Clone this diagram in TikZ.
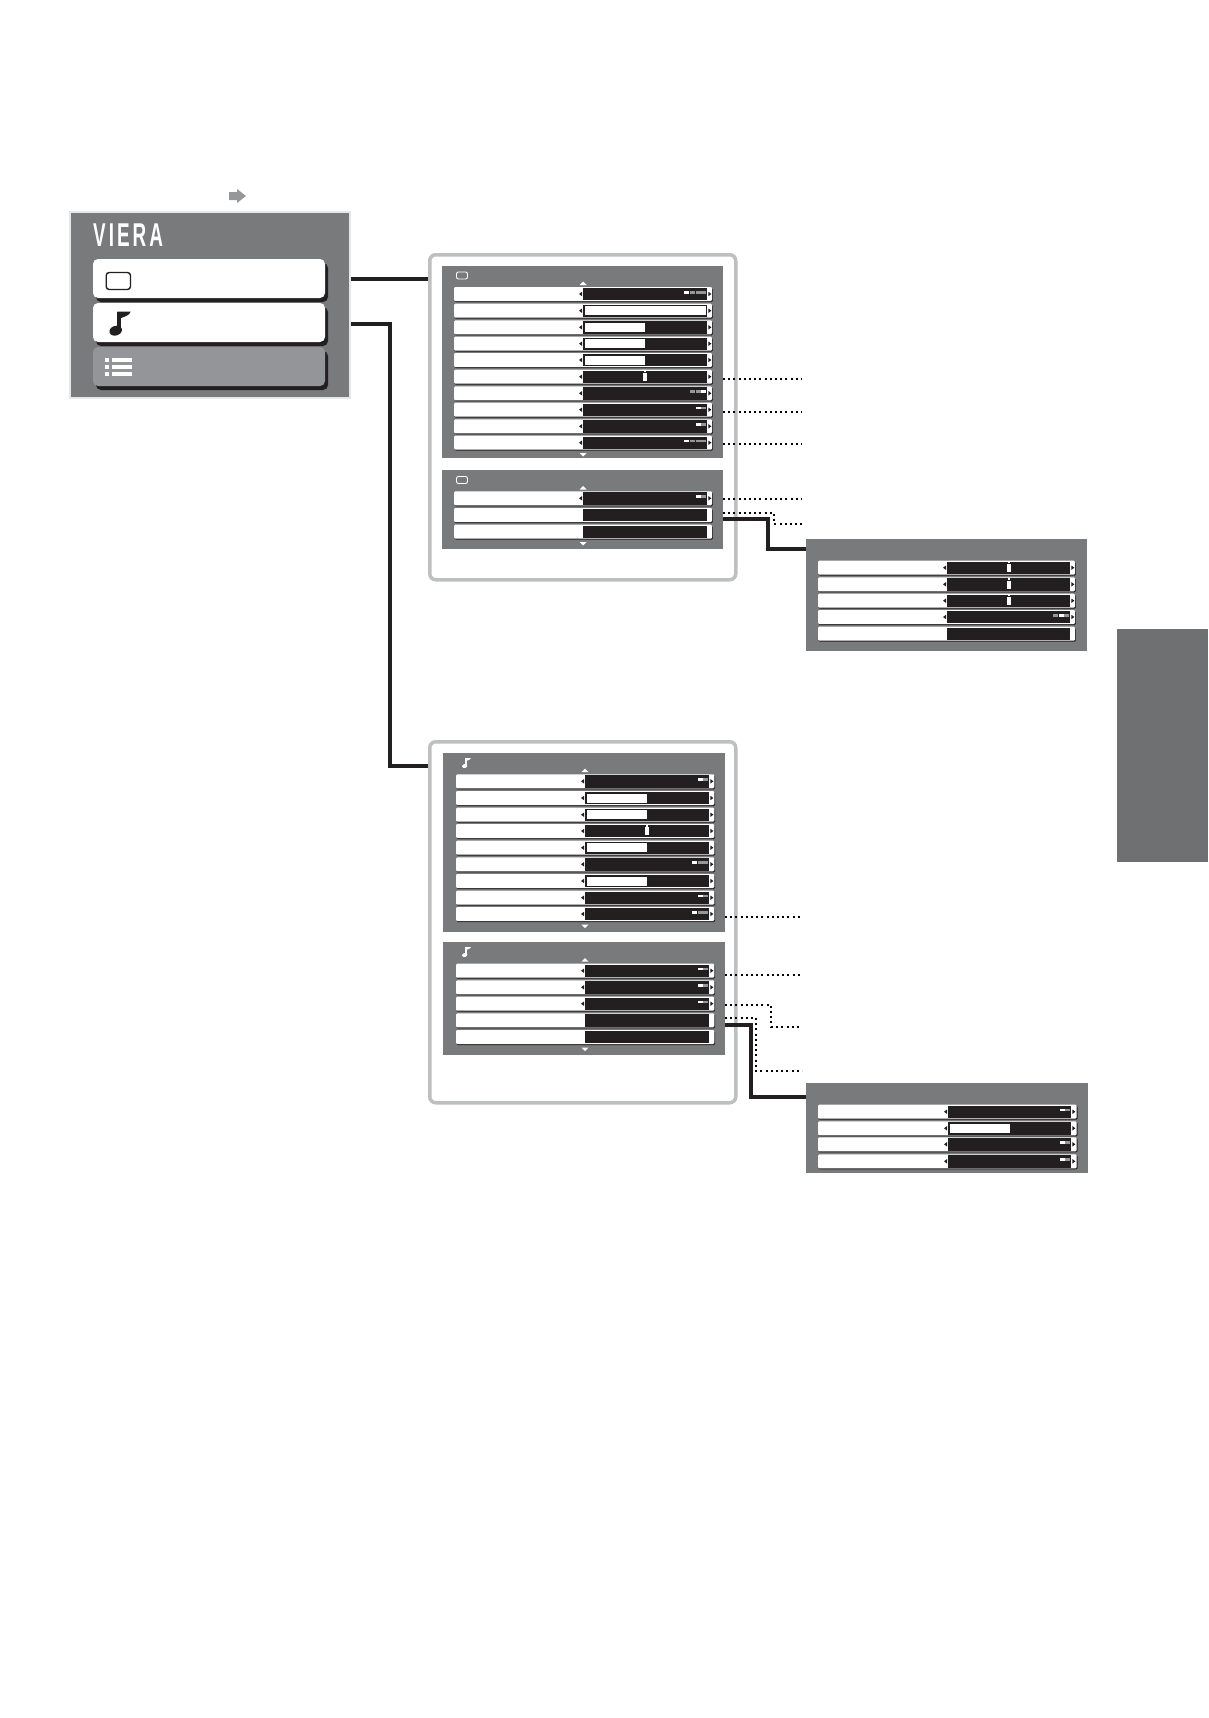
\documentclass[tikz,border=0pt]{standalone}
\usepackage{fontspec}
\newfontfamily\logofont[LetterSpace=16]{Liberation Sans}
\definecolor{panelgray}{RGB}{120,122,123}
\definecolor{tabgray}{RGB}{111,112,114}
\definecolor{buttongray}{RGB}{147,149,152}
\definecolor{framegray}{RGB}{190,191,192}
\definecolor{edgegray}{RGB}{230,231,232}
\definecolor{barblack}{RGB}{35,31,32}
\definecolor{segmentgray}{RGB}{150,151,153}
\tikzset{
	panel/.style={fill=panelgray,inner sep=0pt,outer sep=0pt,anchor=north west},
	framebox/.style={draw=framegray,line width=3.5pt,rounded corners=6pt,inner sep=0pt,anchor=north west},
	menubutton/.style={inner sep=0pt,outer sep=0pt,rounded corners=5pt,anchor=north west,minimum width=232pt,minimum height=39pt},
	rowbox/.style={fill=white,inner sep=0pt,outer sep=0pt,rounded corners=1.2pt,anchor=north west,minimum height=14pt},
	link/.style={draw=barblack,line width=4pt,line join=miter},
	leader/.style={draw=black,line width=2pt,dash pattern=on 2pt off 3.2pt}
}
% note sign: left, top, scale, colour
\newcommand{\noteicon}[4]{
	\begin{scope}[shift={(#1,#2)},scale=#3]
		\fill[#4,rotate around={-18:(6.5,19)}] (6.5,19) ellipse (6.4 and 4.8);
		\fill[#4] (8.2,0) rectangle (11.4,19);
		\fill[#4] (8.2,0) -- (21.5,0) .. controls (20,4) and (15,5) .. (11.4,6.5) -- cycle;
	\end{scope}
}
% one row of a menu: name, top, what sits in the bar
\newcommand{\menurow}[3]{
	\def\rowtop{#2}
	\fill[barblack,rounded corners=1.2pt] ({\rowL+0.5},{#2+1}) rectangle ({\rowR+0.8},{#2+15});
	\node (#1) [rowbox,minimum width={(\rowR-\rowL)*1pt}] at (\rowL,#2) {};
	\fill[barblack] (\barL,{#2+0.8}) rectangle (\barR,{#2+13.2});
	#3
}
\newcommand{\rowarrows}{
	\fill[barblack] ({\barL-4},{\rowtop+7}) -- ({\barL-1},{\rowtop+4.8}) -- ({\barL-1},{\rowtop+9.2}) -- cycle;
	\fill[barblack] ({\barR+4.4},{\rowtop+7}) -- ({\barR+1.4},{\rowtop+4.8}) -- ({\barR+1.4},{\rowtop+9.2}) -- cycle;
}
\newcommand{\levelbar}{
	\rowarrows
	\fill[white] ({\barL+2},{\rowtop+2.6}) rectangle ({\barL+62},{\rowtop+11.6});
}
\newcommand{\fullbar}{
	\rowarrows
	\fill[white] ({\barL+2},{\rowtop+2.6}) rectangle ({\barR-1.4},{\rowtop+11.6});
}
\newcommand{\sliderbar}{
	\rowarrows
	\fill[white] ({\barL+60},{\rowtop+3.4}) rectangle ({\barL+64},{\rowtop+11.4});
	\fill[white] ({\barL+61.3},{\rowtop+1}) rectangle ({\barL+62.7},{\rowtop+2.7});
}
% segments at the right of the bar: how many, which is lit
\newcommand{\segments}[2]{
	\rowarrows
	\foreach \i in {1,...,#1}{
		\pgfmathsetmacro{\segR}{\barR-0.7-(#1-\i)*5.8}
		\ifnum\i=#2 \def\segcol{white}\else\def\segcol{segmentgray}\fi
		\fill[\segcol] ({\segR-4.9},{\rowtop+3.8}) rectangle (\segR,{\rowtop+6.6});
	}
}
\begin{document}
\begin{tikzpicture}[x=1pt,y=1pt,yscale=-1,xscale=1]
	\useasboundingbox (0,0) rectangle (1208,1718);

	%side tab and the small arrow
	\fill[tabgray] (1117,629) rectangle (1208,862);
	\fill[segmentgray] (229,192) -- (237,192) -- (237,189) -- (246,196) -- (237,203) -- (237,200) -- (229,200) -- cycle;

	%main menu
	\node (mainmenu) [panel,draw=edgegray,line width=2pt,outer sep=1pt,minimum width=280pt,minimum height=186pt] at (69,211) {};
	\node (logo) [anchor=west,inner sep=0pt,text=white,xscale=0.86,yscale=1.5] at (93,235) {\logofont\fontsize{22}{22}\selectfont\bfseries VIERA};
	\fill[barblack,rounded corners=5pt] (96,263) rectangle (328,302);
	\fill[barblack,rounded corners=5pt] (96,307) rectangle (328,346);
	\fill[barblack,rounded corners=5pt] (96,351) rectangle (328,390);
	\node (picbutton) [menubutton,fill=white] at (93,259) {};
	\node (musicbutton) [menubutton,fill=white] at (93,303) {};
	\node (setupbutton) [menubutton,fill=buttongray] at (93,347) {};
	\draw[barblack,line width=1.4pt,rounded corners=3pt] (106.2,272.5) rectangle (130.5,289.5);
	\noteicon{109.2}{311.7}{1}{barblack}
	\foreach \liney in {358,365,372}{
		\fill[white] (105,\liney) rectangle (109,{\liney+4});
		\fill[white] (112,\liney) rectangle (132,{\liney+4});
	}

	%picture frame
	\node (picframe) [framebox,minimum width=306pt,minimum height=325pt] at (428,253) {};
	\node (picA) [panel,minimum width=281pt,minimum height=192pt] at (442,266) {};
	\node (picB) [panel,minimum width=281pt,minimum height=79pt] at (442,470) {};
	\draw[white,fill=panelgray,line width=0.9pt,rounded corners=2pt] (456.5,272) rectangle (467.5,279);
	\draw[white,fill=panelgray,line width=0.9pt,rounded corners=2pt] (456.5,476.5) rectangle (467.5,483.5);
	\fill[white] (579.5,285) -- (583,281.5) -- (586.5,285) -- cycle;
	\fill[white] (579.5,453) -- (583,456.5) -- (586.5,453) -- cycle;
	\fill[white] (579.5,489.5) -- (583,486) -- (586.5,489.5) -- cycle;
	\fill[white] (579.5,542) -- (583,545.5) -- (586.5,542) -- cycle;
	\def\rowL{454}\def\barL{583}\def\barR{707}\def\rowR{712}
	\menurow{A1}{287}{\segments{4}{1}}
	\menurow{A2}{303.7}{\fullbar}
	\menurow{A3}{320.3}{\levelbar}
	\menurow{A4}{336.7}{\levelbar}
	\menurow{A5}{353}{\levelbar}
	\menurow{A6}{369.7}{\sliderbar}
	\menurow{A7}{386.3}{\segments{3}{3}}
	\menurow{A8}{402.7}{\segments{2}{1}}
	\menurow{A9}{419.3}{\segments{2}{1}}
	\menurow{A10}{435.7}{\segments{4}{1}}
	\menurow{B1}{491.3}{\segments{2}{1}}
	\menurow{B2}{508}{}
	\menurow{B3}{524.7}{}

	%advanced picture menu
	\node (picC) [panel,minimum width=280.5pt,minimum height=112pt] at (806,539) {};
	\def\rowL{818}\def\barL{947}\def\barR{1070}\def\rowR{1075}
	\menurow{C1}{560.7}{\sliderbar}
	\menurow{C2}{577.3}{\sliderbar}
	\menurow{C3}{593.7}{\sliderbar}
	\menurow{C4}{610}{\segments{3}{2}}
	\menurow{C5}{626.7}{}

	%sound frame
	\node (musicframe) [framebox,minimum width=306pt,minimum height=361pt] at (428,740) {};
	\node (musicD) [panel,minimum width=282pt,minimum height=178.5pt] at (443,753.3) {};
	\node (musicE) [panel,minimum width=282pt,minimum height=112.5pt] at (443,942.3) {};
	\noteicon{462}{758}{0.42}{white}
	\noteicon{462}{947}{0.42}{white}
	\fill[white] (581.5,772) -- (585,768.5) -- (588.5,772) -- cycle;
	\fill[white] (581.5,924.5) -- (585,928) -- (588.5,924.5) -- cycle;
	\fill[white] (581.5,961.5) -- (585,958) -- (588.5,961.5) -- cycle;
	\fill[white] (581.5,1047.5) -- (585,1051) -- (588.5,1047.5) -- cycle;
	\def\rowL{456}\def\barL{585}\def\barR{709}\def\rowR{714.3}
	\menurow{D1}{774.3}{\segments{2}{1}}
	\menurow{D2}{791}{\levelbar}
	\menurow{D3}{807.7}{\levelbar}
	\menurow{D4}{824}{\sliderbar}
	\menurow{D5}{840.7}{\levelbar}
	\menurow{D6}{857.3}{\segments{3}{1}}
	\menurow{D7}{874}{\levelbar}
	\menurow{D8}{890.7}{\segments{2}{1}}
	\menurow{D9}{907}{\segments{3}{1}}
	\menurow{E1}{963.7}{\segments{2}{1}}
	\menurow{E2}{980.3}{\segments{2}{1}}
	\menurow{E3}{996.7}{\segments{2}{1}}
	\menurow{E4}{1013.3}{}
	\menurow{E5}{1030}{}

	%advanced sound menu
	\node (musicF) [panel,minimum width=281.7pt,minimum height=90pt] at (806,1083) {};
	\def\rowL{818}\def\barL{948}\def\barR{1071}\def\rowR{1076.7}
	\menurow{F1}{1104.7}{\segments{2}{1}}
	\menurow{F2}{1121.3}{\levelbar}
	\menurow{F3}{1137.3}{\segments{2}{1}}
	\menurow{F4}{1154.3}{\segments{2}{1}}

	%thick links
	\coordinate (piclevel) at (0,279);
	\coordinate (musicrise) at (390,323.7);
	\coordinate (musicdrop) at (390,765.7);
	\coordinate (advpicrise) at (768,519);
	\coordinate (advpicdrop) at (768,549);
	\coordinate (advmusicrise) at (751,1025);
	\coordinate (advmusicdrop) at (751,1096.7);
	\draw[link] (mainmenu.east |- piclevel) -- (picframe.west |- piclevel);
	\draw[link] (mainmenu.east |- musicrise) -- (musicrise) -- (musicdrop) -- (musicframe.west |- musicdrop);
	\draw[link] (picB.east |- advpicrise) -- (advpicrise) -- (advpicdrop) -- (picC.west |- advpicdrop);
	\draw[link] (musicE.east |- advmusicrise) -- (advmusicrise) -- (advmusicdrop) -- (musicF.west |- advmusicdrop);

	%dotted leaders
	\coordinate (endA6) at (802,378.7);
	\coordinate (endA8) at (802,411.7);
	\coordinate (endA10) at (802,443.7);
	\coordinate (endB1) at (802,498.7);
	\coordinate (stepB2a) at (774,513);
	\coordinate (stepB2b) at (774,524);
	\coordinate (endB2) at (802,524);
	\coordinate (endD9) at (802,917);
	\coordinate (endE1) at (802,974.7);
	\coordinate (stepE3a) at (771,1005);
	\coordinate (stepE3b) at (771,1026.7);
	\coordinate (endE3) at (802,1026.7);
	\coordinate (stepE4a) at (756,1017.7);
	\coordinate (stepE4b) at (756,1070.7);
	\coordinate (endE4) at (802,1070.7);
	\draw[leader] (picA.east |- endA6) -- (endA6);
	\draw[leader] (picA.east |- endA8) -- (endA8);
	\draw[leader] (picA.east |- endA10) -- (endA10);
	\draw[leader] (picB.east |- endB1) -- (endB1);
	\draw[leader] (picB.east |- stepB2a) -- (stepB2a) -- (stepB2b) -- (endB2);
	\draw[leader] (musicD.east |- endD9) -- (endD9);
	\draw[leader] (musicE.east |- endE1) -- (endE1);
	\draw[leader] (musicE.east |- stepE3a) -- (stepE3a) -- (stepE3b) -- (endE3);
	\draw[leader] (musicE.east |- stepE4a) -- (stepE4a) -- (stepE4b) -- (endE4);
\end{tikzpicture}
\end{document}
